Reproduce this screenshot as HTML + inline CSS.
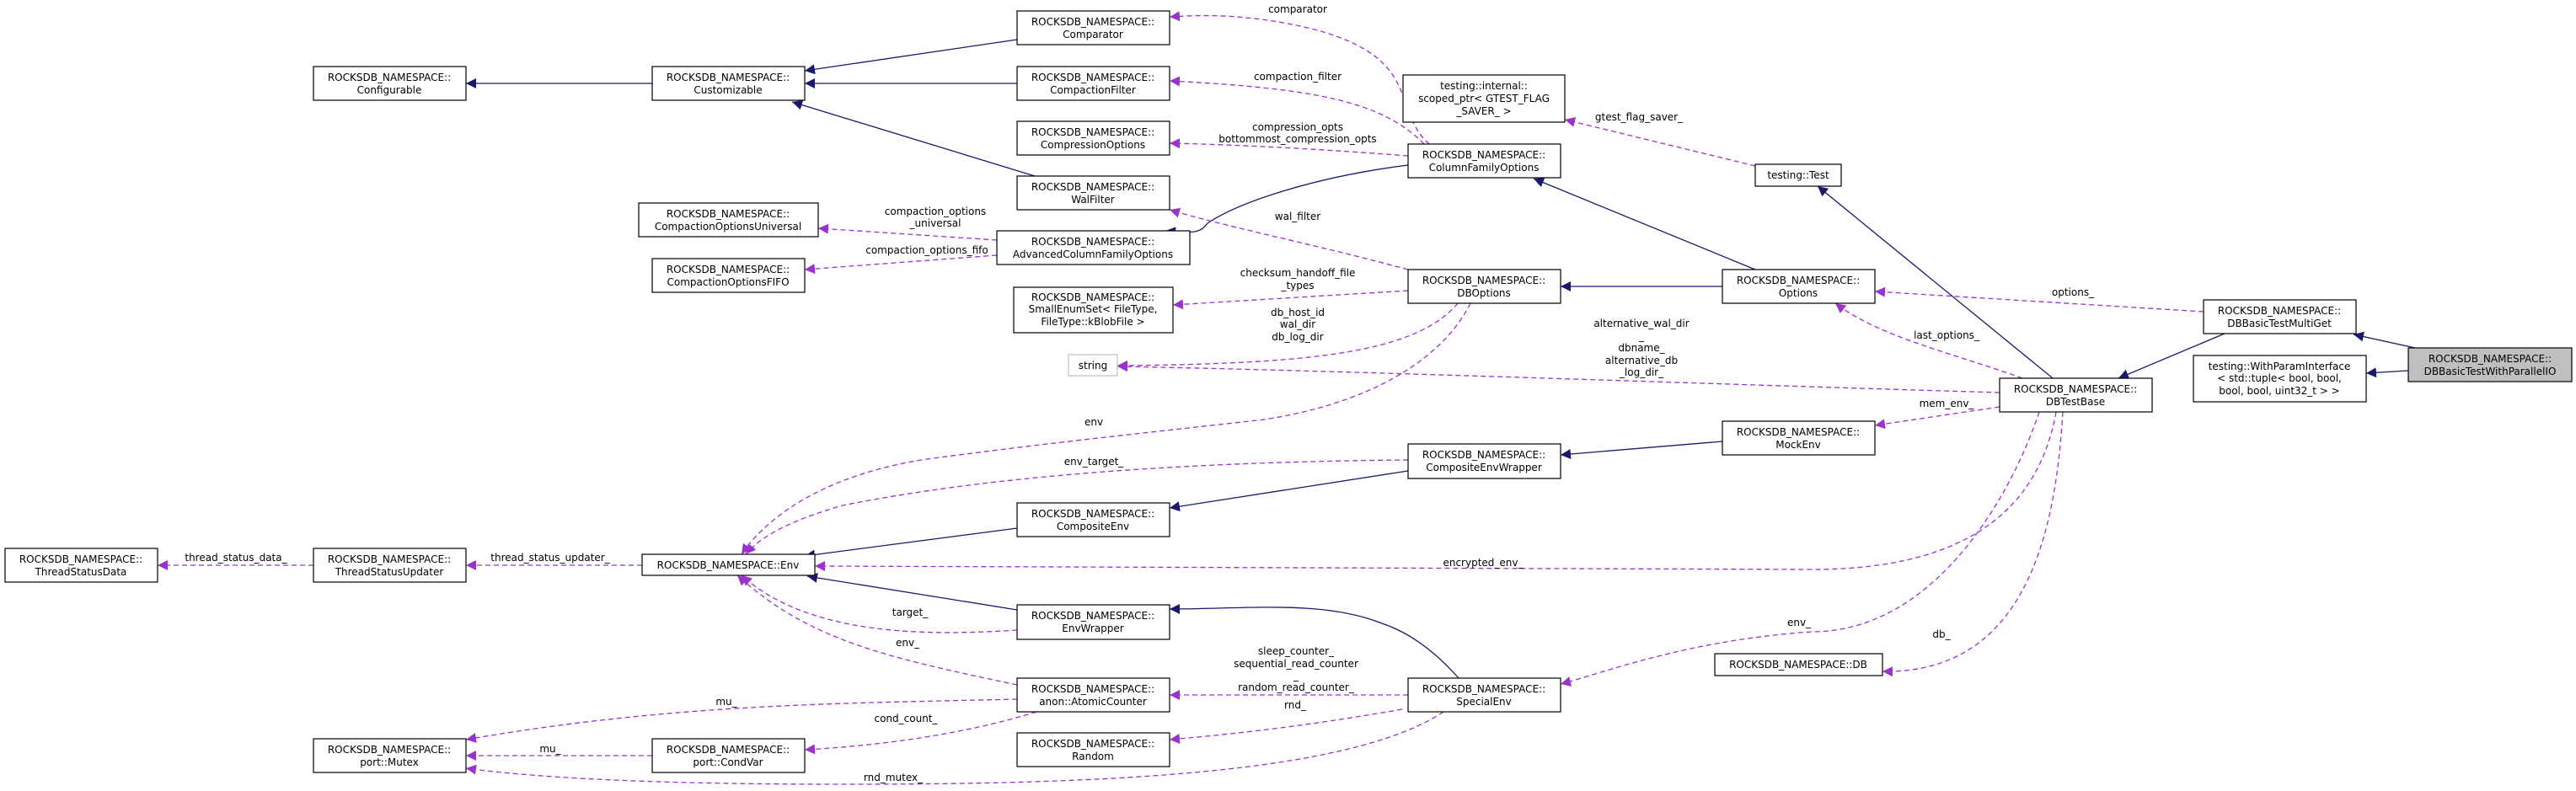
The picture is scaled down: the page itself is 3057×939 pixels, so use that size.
<!DOCTYPE html>
<html><head><meta charset="utf-8"><style>
html,body{margin:0;padding:0;background:#fff;}
svg{display:block;}
text{font-family:"DejaVu Sans","Liberation Sans",sans-serif;font-size:12px;fill:#000;}
.n{fill:#fff;stroke:#000;stroke-width:1.2;}
.b{fill:none;stroke:#191970;stroke-width:1.3;}
.p{fill:none;stroke:#9a32cd;stroke-width:1.3;stroke-dasharray:6,4;}
</style></head><body>
<svg width="3057" height="939" viewBox="0 0 3057 939" xmlns="http://www.w3.org/2000/svg">
<defs>
<marker id="ab" viewBox="0 0 10 10" refX="10" refY="5" markerWidth="12" markerHeight="12" markerUnits="userSpaceOnUse" orient="auto"><path d="M0,0 L10,5 L0,10 z" fill="#191970"/></marker>
<marker id="ap" viewBox="0 0 10 10" refX="10" refY="5" markerWidth="12" markerHeight="12" markerUnits="userSpaceOnUse" orient="auto"><path d="M0,0 L10,5 L0,10 z" fill="#9a32cd"/></marker>
</defs>

<!-- blue inheritance edges -->
<g marker-end="url(#ab)">
<path class="b" d="M774,99 L553,99"/>
<path class="b" d="M1207,47 L955,84"/>
<path class="b" d="M1207,99 L955,99"/>
<path class="b" d="M1228,209 L940,121"/>
<path class="b" d="M1671,196 C1560,210 1470,240 1433,265 C1425,275 1420,278 1383,274"/>
<path class="b" d="M2083,320 L1820,212"/>
<path class="b" d="M2044,340 L1852,340"/>
<path class="b" d="M2436,449 L2157,221"/>
<path class="b" d="M2640,396 L2514,449"/>
<path class="b" d="M2866,413 L2793,397"/>
<path class="b" d="M2858,440 L2808,443"/>
<path class="b" d="M2044,524 L1852,540"/>
<path class="b" d="M1671,559 L1388,603"/>
<path class="b" d="M1207,627 L955,660"/>
<path class="b" d="M1207,724 L958,684"/>
<path class="b" d="M1731,805 C1700,770 1670,750 1640,740 C1570,712 1480,723 1388,723"/>
</g>

<!-- purple usage edges -->
<g marker-end="url(#ap)">
<path class="p" d="M1696,171 C1650,130 1690,70 1560,35 C1480,15 1420,18 1388,20"/>
<path class="p" d="M1690,171 C1640,120 1560,105 1388,96"/>
<path class="p" d="M1671,185 C1580,178 1480,172 1388,170"/>
<path class="p" d="M1671,320 C1560,290 1450,268 1388,249"/>
<path class="p" d="M1183,285 L971,271"/>
<path class="p" d="M1183,303 L955,320"/>
<path class="p" d="M1671,345 L1392,362"/>
<path class="p" d="M1730,360 C1680,420 1550,432 1326,434"/>
<path class="p" d="M1745,360 C1710,430 1620,480 1500,498 C1350,515 1250,525 1100,545 C1000,560 920,600 880,658"/>
<path class="p" d="M2373,466 C2000,455 1600,440 1326,435"/>
<path class="p" d="M2083,197 L1857,142"/>
<path class="p" d="M2615,370 L2225,346"/>
<path class="p" d="M2400,449 C2320,420 2230,400 2178,360"/>
<path class="p" d="M2373,483 L2225,505"/>
<path class="p" d="M1671,546 C1450,548 1200,560 1000,600 C930,620 900,640 885,658"/>
<path class="p" d="M2440,489 C2420,600 2340,676 2150,676 L967,672"/>
<path class="p" d="M2420,489 C2390,580 2300,750 2150,750 C2000,760 1900,800 1852,812"/>
<path class="p" d="M2448,489 C2440,620 2410,800 2234,797"/>
<path class="p" d="M1207,748 C1100,755 960,755 880,683"/>
<path class="p" d="M1207,813 C1050,780 960,760 875,683"/>
<path class="p" d="M1207,830 C1000,835 800,835 553,878"/>
<path class="p" d="M1230,845 C1150,870 1050,885 955,890"/>
<path class="p" d="M774,897 L553,897"/>
<path class="p" d="M1671,825 L1388,825"/>
<path class="p" d="M1664,842 C1560,860 1480,870 1388,878"/>
<path class="p" d="M1713,845 C1600,920 1300,931 1000,931 C800,931 650,925 553,912"/>
<path class="p" d="M762,671 L553,671"/>
<path class="p" d="M372,671 L187,671"/>
</g>

<!-- edge labels -->
<g text-anchor="middle">
<text x="1540" y="15">comparator</text>
<text x="1540" y="95">compaction_filter</text>
<text x="1540" y="155">compression_opts</text>
<text x="1540" y="169">bottommost_compression_opts</text>
<text x="1540" y="261">wal_filter</text>
<text x="1110" y="255">compaction_options</text>
<text x="1110" y="269">_universal</text>
<text x="1100" y="301">compaction_options_fifo</text>
<text x="1540" y="328">checksum_handoff_file</text>
<text x="1540" y="343">_types</text>
<text x="1540" y="375">db_host_id</text>
<text x="1540" y="389">wal_dir</text>
<text x="1540" y="404">db_log_dir</text>
<text x="1948" y="388">alternative_wal_dir</text>
<text x="1948" y="403">_</text>
<text x="1948" y="417">dbname_</text>
<text x="1948" y="432">alternative_db</text>
<text x="1948" y="446">_log_dir_</text>
<text x="1945" y="143">gtest_flag_saver_</text>
<text x="2460" y="351">options_</text>
<text x="2310" y="402">last_options_</text>
<text x="2310" y="483">mem_env_</text>
<text x="1298" y="505">env</text>
<text x="1298" y="552">env_target_</text>
<text x="1760" y="672">encrypted_env_</text>
<text x="2135" y="743">env_</text>
<text x="2304" y="757">db_</text>
<text x="1080" y="731">target_</text>
<text x="1077" y="767">env_</text>
<text x="862" y="837">mu_</text>
<text x="1075" y="857">cond_count_</text>
<text x="653" y="893">mu_</text>
<text x="1538" y="777">sleep_counter_</text>
<text x="1538" y="792">sequential_read_counter</text>
<text x="1538" y="806">_</text>
<text x="1538" y="820">random_read_counter_</text>
<text x="1537" y="841">rnd_</text>
<text x="1060" y="927">rnd_mutex_</text>
<text x="653" y="666">thread_status_updater_</text>
<text x="280" y="666">thread_status_data_</text>
</g>

<!-- nodes -->
<g>
<rect class="n" x="372" y="79" width="181" height="40"/>
<rect class="n" x="774" y="79" width="181" height="40"/>
<rect class="n" x="1207" y="13" width="181" height="40"/>
<rect class="n" x="1207" y="79" width="181" height="40"/>
<rect class="n" x="1207" y="144" width="181" height="40"/>
<rect class="n" x="1207" y="209" width="181" height="40"/>
<rect class="n" x="758" y="241" width="213" height="40"/>
<rect class="n" x="774" y="307" width="181" height="40"/>
<rect class="n" x="1183" y="274" width="229" height="40"/>
<rect class="n" x="1203" y="341" width="189" height="54"/>
<rect x="1268" y="421" width="58" height="25" fill="#fff" stroke="#bfbfbf" stroke-width="1.2"/>
<rect class="n" x="1665" y="89" width="192" height="56"/>
<rect class="n" x="1671" y="171" width="181" height="40"/>
<rect class="n" x="1671" y="320" width="181" height="40"/>
<rect class="n" x="2044" y="320" width="181" height="40"/>
<rect class="n" x="2083" y="195" width="102" height="26"/>
<rect class="n" x="2615" y="356" width="181" height="40"/>
<rect x="2858" y="413" width="194" height="40" fill="#bfbfbf" stroke="#000" stroke-width="1.2"/>
<rect class="n" x="2603" y="422" width="205" height="55"/>
<rect class="n" x="2373" y="449" width="181" height="40"/>
<rect class="n" x="2044" y="500" width="181" height="40"/>
<rect class="n" x="6" y="651" width="181" height="40"/>
<rect class="n" x="372" y="651" width="181" height="40"/>
<rect class="n" x="762" y="658" width="205" height="25"/>
<rect class="n" x="372" y="877" width="181" height="40"/>
<rect class="n" x="774" y="877" width="181" height="40"/>
<rect class="n" x="1671" y="527" width="181" height="41"/>
<rect class="n" x="1207" y="597" width="181" height="40"/>
<rect class="n" x="1207" y="718" width="181" height="41"/>
<rect class="n" x="1207" y="805" width="181" height="40"/>
<rect class="n" x="1207" y="870" width="181" height="40"/>
<rect class="n" x="1671" y="805" width="181" height="40"/>
<rect class="n" x="2035" y="776" width="199" height="26"/>
</g>

<g text-anchor="middle">
<text x="462" y="96">ROCKSDB_NAMESPACE::</text><text x="462" y="111">Configurable</text>
<text x="864" y="96">ROCKSDB_NAMESPACE::</text><text x="864" y="111">Customizable</text>
<text x="1297" y="30">ROCKSDB_NAMESPACE::</text><text x="1297" y="45">Comparator</text>
<text x="1297" y="96">ROCKSDB_NAMESPACE::</text><text x="1297" y="111">CompactionFilter</text>
<text x="1297" y="161">ROCKSDB_NAMESPACE::</text><text x="1297" y="176">CompressionOptions</text>
<text x="1297" y="226">ROCKSDB_NAMESPACE::</text><text x="1297" y="241">WalFilter</text>
<text x="864" y="258">ROCKSDB_NAMESPACE::</text><text x="864" y="273">CompactionOptionsUniversal</text>
<text x="864" y="324">ROCKSDB_NAMESPACE::</text><text x="864" y="339">CompactionOptionsFIFO</text>
<text x="1297" y="291">ROCKSDB_NAMESPACE::</text><text x="1297" y="306">AdvancedColumnFamilyOptions</text>
<text x="1297" y="357">ROCKSDB_NAMESPACE::</text><text x="1297" y="371">SmallEnumSet&lt; FileType,</text><text x="1297" y="386">FileType::kBlobFile &gt;</text>
<text x="1297" y="438">string</text>
<text x="1761" y="106">testing::internal::</text><text x="1761" y="121">scoped_ptr&lt; GTEST_FLAG</text><text x="1761" y="136">_SAVER_ &gt;</text>
<text x="1761" y="188">ROCKSDB_NAMESPACE::</text><text x="1761" y="203">ColumnFamilyOptions</text>
<text x="1761" y="337">ROCKSDB_NAMESPACE::</text><text x="1761" y="352">DBOptions</text>
<text x="2134" y="337">ROCKSDB_NAMESPACE::</text><text x="2134" y="352">Options</text>
<text x="2134" y="212">testing::Test</text>
<text x="2705" y="373">ROCKSDB_NAMESPACE::</text><text x="2705" y="388">DBBasicTestMultiGet</text>
<text x="2955" y="430">ROCKSDB_NAMESPACE::</text><text x="2955" y="445">DBBasicTestWithParallelIO</text>
<text x="2705" y="439">testing::WithParamInterface</text><text x="2705" y="453">&lt; std::tuple&lt; bool, bool,</text><text x="2705" y="468">bool, bool, uint32_t &gt; &gt;</text>
<text x="2463" y="466">ROCKSDB_NAMESPACE::</text><text x="2463" y="481">DBTestBase</text>
<text x="2134" y="517">ROCKSDB_NAMESPACE::</text><text x="2134" y="532">MockEnv</text>
<text x="96" y="668">ROCKSDB_NAMESPACE::</text><text x="96" y="683">ThreadStatusData</text>
<text x="462" y="668">ROCKSDB_NAMESPACE::</text><text x="462" y="683">ThreadStatusUpdater</text>
<text x="864" y="675">ROCKSDB_NAMESPACE::Env</text>
<text x="462" y="894">ROCKSDB_NAMESPACE::</text><text x="462" y="909">port::Mutex</text>
<text x="864" y="894">ROCKSDB_NAMESPACE::</text><text x="864" y="909">port::CondVar</text>
<text x="1761" y="544">ROCKSDB_NAMESPACE::</text><text x="1761" y="559">CompositeEnvWrapper</text>
<text x="1297" y="614">ROCKSDB_NAMESPACE::</text><text x="1297" y="629">CompositeEnv</text>
<text x="1297" y="735">ROCKSDB_NAMESPACE::</text><text x="1297" y="750">EnvWrapper</text>
<text x="1297" y="822">ROCKSDB_NAMESPACE::</text><text x="1297" y="837">anon::AtomicCounter</text>
<text x="1297" y="887">ROCKSDB_NAMESPACE::</text><text x="1297" y="902">Random</text>
<text x="1761" y="822">ROCKSDB_NAMESPACE::</text><text x="1761" y="837">SpecialEnv</text>
<text x="2134" y="793">ROCKSDB_NAMESPACE::DB</text>
</g>
</svg>
</body></html>
